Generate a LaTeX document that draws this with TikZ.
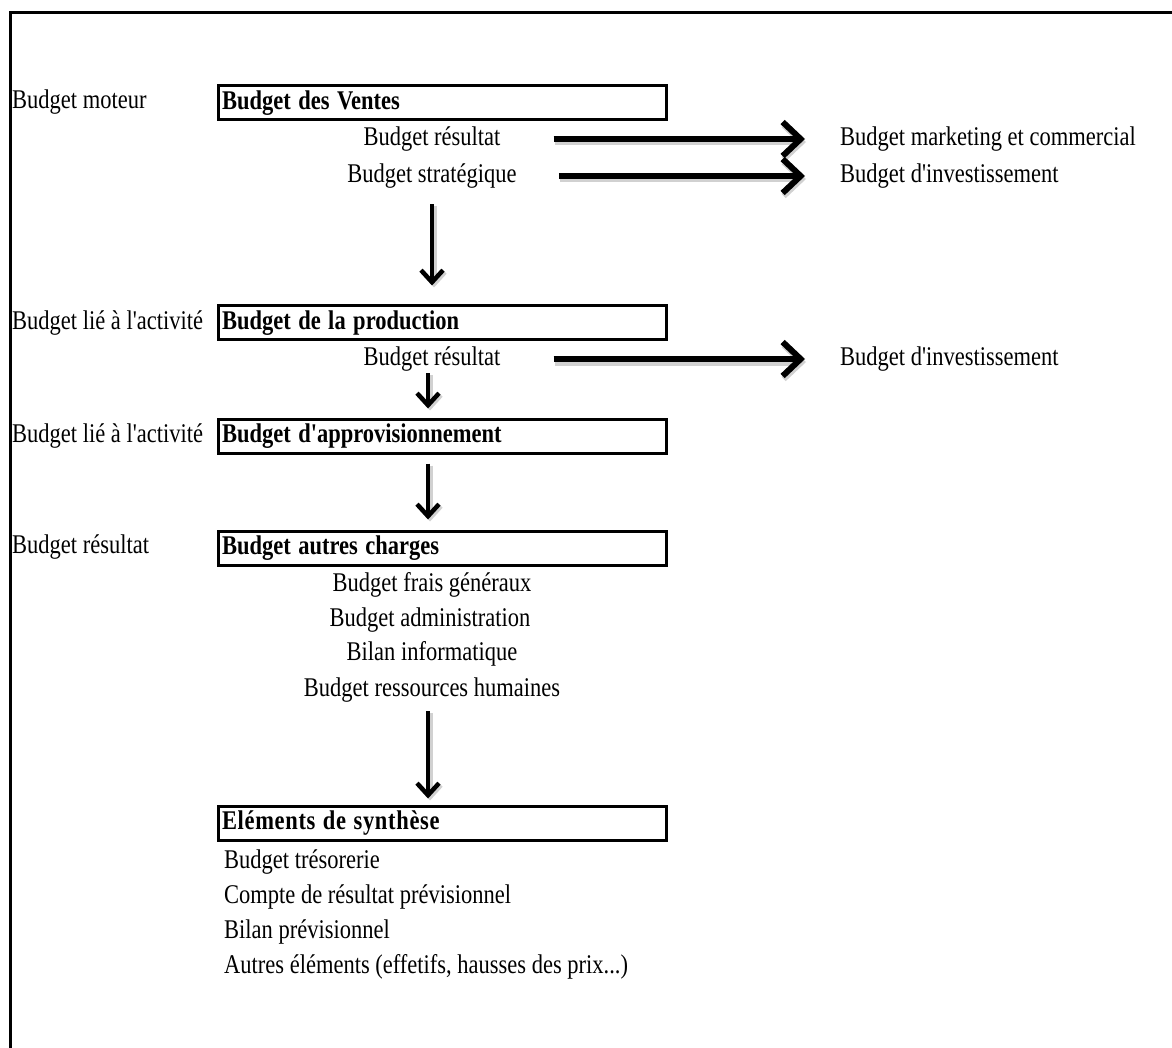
\documentclass[tikz,border=0pt]{standalone}
\usepackage{fontspec}
\setmainfont{Liberation Serif}[Ligatures=TeXOff]
\usetikzlibrary{arrows.meta}
\newcommand{\tallt}[1]{\scalebox{1}[1.2]{#1}}
\begin{document}
\begin{tikzpicture}[x=1pt,y=-1pt,
 lbl/.style={inner sep=0pt, font=\fontsize{22.5}{26}\selectfont},
 box/.style={draw, line width=3pt, minimum width=448pt, minimum height=34pt, text width=440pt, inner xsep=4pt, inner ysep=0pt, align=left, font=\fontsize{22.5}{26}\selectfont\bfseries},
 harrow/.style={line width=6pt, -{Straight Barb[length=18pt,width=34pt,line width=6pt]},
   preaction={draw=black!18, line width=7pt, transform canvas={xshift=1pt,yshift=-3pt}}},
 varrow/.style={line width=4pt, -{Straight Barb[length=12pt,width=22pt,line width=4.5pt]},
   preaction={draw=black!18, line width=5pt, transform canvas={xshift=2pt,yshift=-2pt}}},
]
\useasboundingbox (0,0) rectangle (1172,1048);
\draw[line width=3pt] (10,1048) -- (10,13) -- (1172,13);

% row labels
\node[lbl, anchor=mid west] (l1) at (12,106) {\tallt{Budget moteur}};
\node[lbl, anchor=mid west] (l2) at (12,327) {\tallt{Budget lié à l'activité}};
\node[lbl, anchor=mid west] (l3) at (12,440) {\tallt{Budget lié à l'activité}};
\node[lbl, anchor=mid west] (l4) at (12,551) {\tallt{Budget résultat}};

% boxes
\node[box] (b1) at (442,103) {\tallt{Budget des Ventes}};
\node[box] (b2) at (442,323) {\tallt{Budget de la production}};
\node[box] (b3) at (442,436) {\tallt{Budget d'approvisionnement}};
\node[box] (b4) at (442,548) {\tallt{Budget autres charges}};
\node[box] (b5) at (442,823) {\tallt{\addfontfeature{LetterSpace=3}Eléments de synthèse}};

% sub texts
\node[lbl, anchor=mid] (r1) at (432,143) {\tallt{Budget résultat}};
\node[lbl, anchor=mid] (s1) at (432,180) {\tallt{Budget stratégique}};
\node[lbl, anchor=mid west] (m1) at (840,143) {\tallt{Budget marketing et commercial}};
\node[lbl, anchor=mid west] (i1) at (840,180) {\tallt{Budget d'investissement}};

\node[lbl, anchor=mid] (r2) at (432,363) {\tallt{Budget résultat}};
\node[lbl, anchor=mid west] (i2) at (840,363) {\tallt{Budget d'investissement}};

\node[lbl, anchor=mid] (c1) at (432,589) {\tallt{Budget frais généraux}};
\node[lbl, anchor=mid] (c2) at (430,624) {\tallt{Budget administration}};
\node[lbl, anchor=mid] (c3) at (432,658) {\tallt{Bilan informatique}};
\node[lbl, anchor=mid] (c4) at (432,694) {\tallt{Budget ressources humaines}};

\node[lbl, anchor=mid west] (e1) at (224,866) {\tallt{Budget trésorerie}};
\node[lbl, anchor=mid west] (e2) at (224,901) {\tallt{Compte de résultat prévisionnel}};
\node[lbl, anchor=mid west] (e3) at (224,936) {\tallt{Bilan prévisionnel}};
\node[lbl, anchor=mid west] (e4) at (224,971) {\tallt{Autres éléments (effetifs, hausses des prix...)}};

% horizontal arrows
\draw[harrow] ([xshift=53pt,yshift=4pt]r1.mid east) -- ([xshift=-35pt,yshift=4pt]m1.mid west);
\draw[harrow] ([xshift=42pt,yshift=4pt]s1.mid east) -- ([xshift=-35pt,yshift=4pt]i1.mid west);
\draw[harrow] ([xshift=53pt,yshift=4pt]r2.mid east) -- ([xshift=-35pt,yshift=4pt]i2.mid west);

% vertical arrows
\draw[varrow] ([yshift=-16pt]s1.south) -- ([yshift=19pt]b2.north -| s1.south);
\draw[varrow] ([xshift=-4pt,yshift=-2pt]r2.south) -- ([xshift=-4pt,yshift=9pt]b3.north -| r2.south);
\draw[varrow] ([xshift=-14pt,yshift=-9pt]b3.south) -- ([xshift=-14pt,yshift=10pt]b4.north);
\draw[varrow] ([xshift=-4pt,yshift=-9pt]c4.south) -- ([xshift=-4pt,yshift=6pt]b5.north -| c4.south);
\end{tikzpicture}
\end{document}
